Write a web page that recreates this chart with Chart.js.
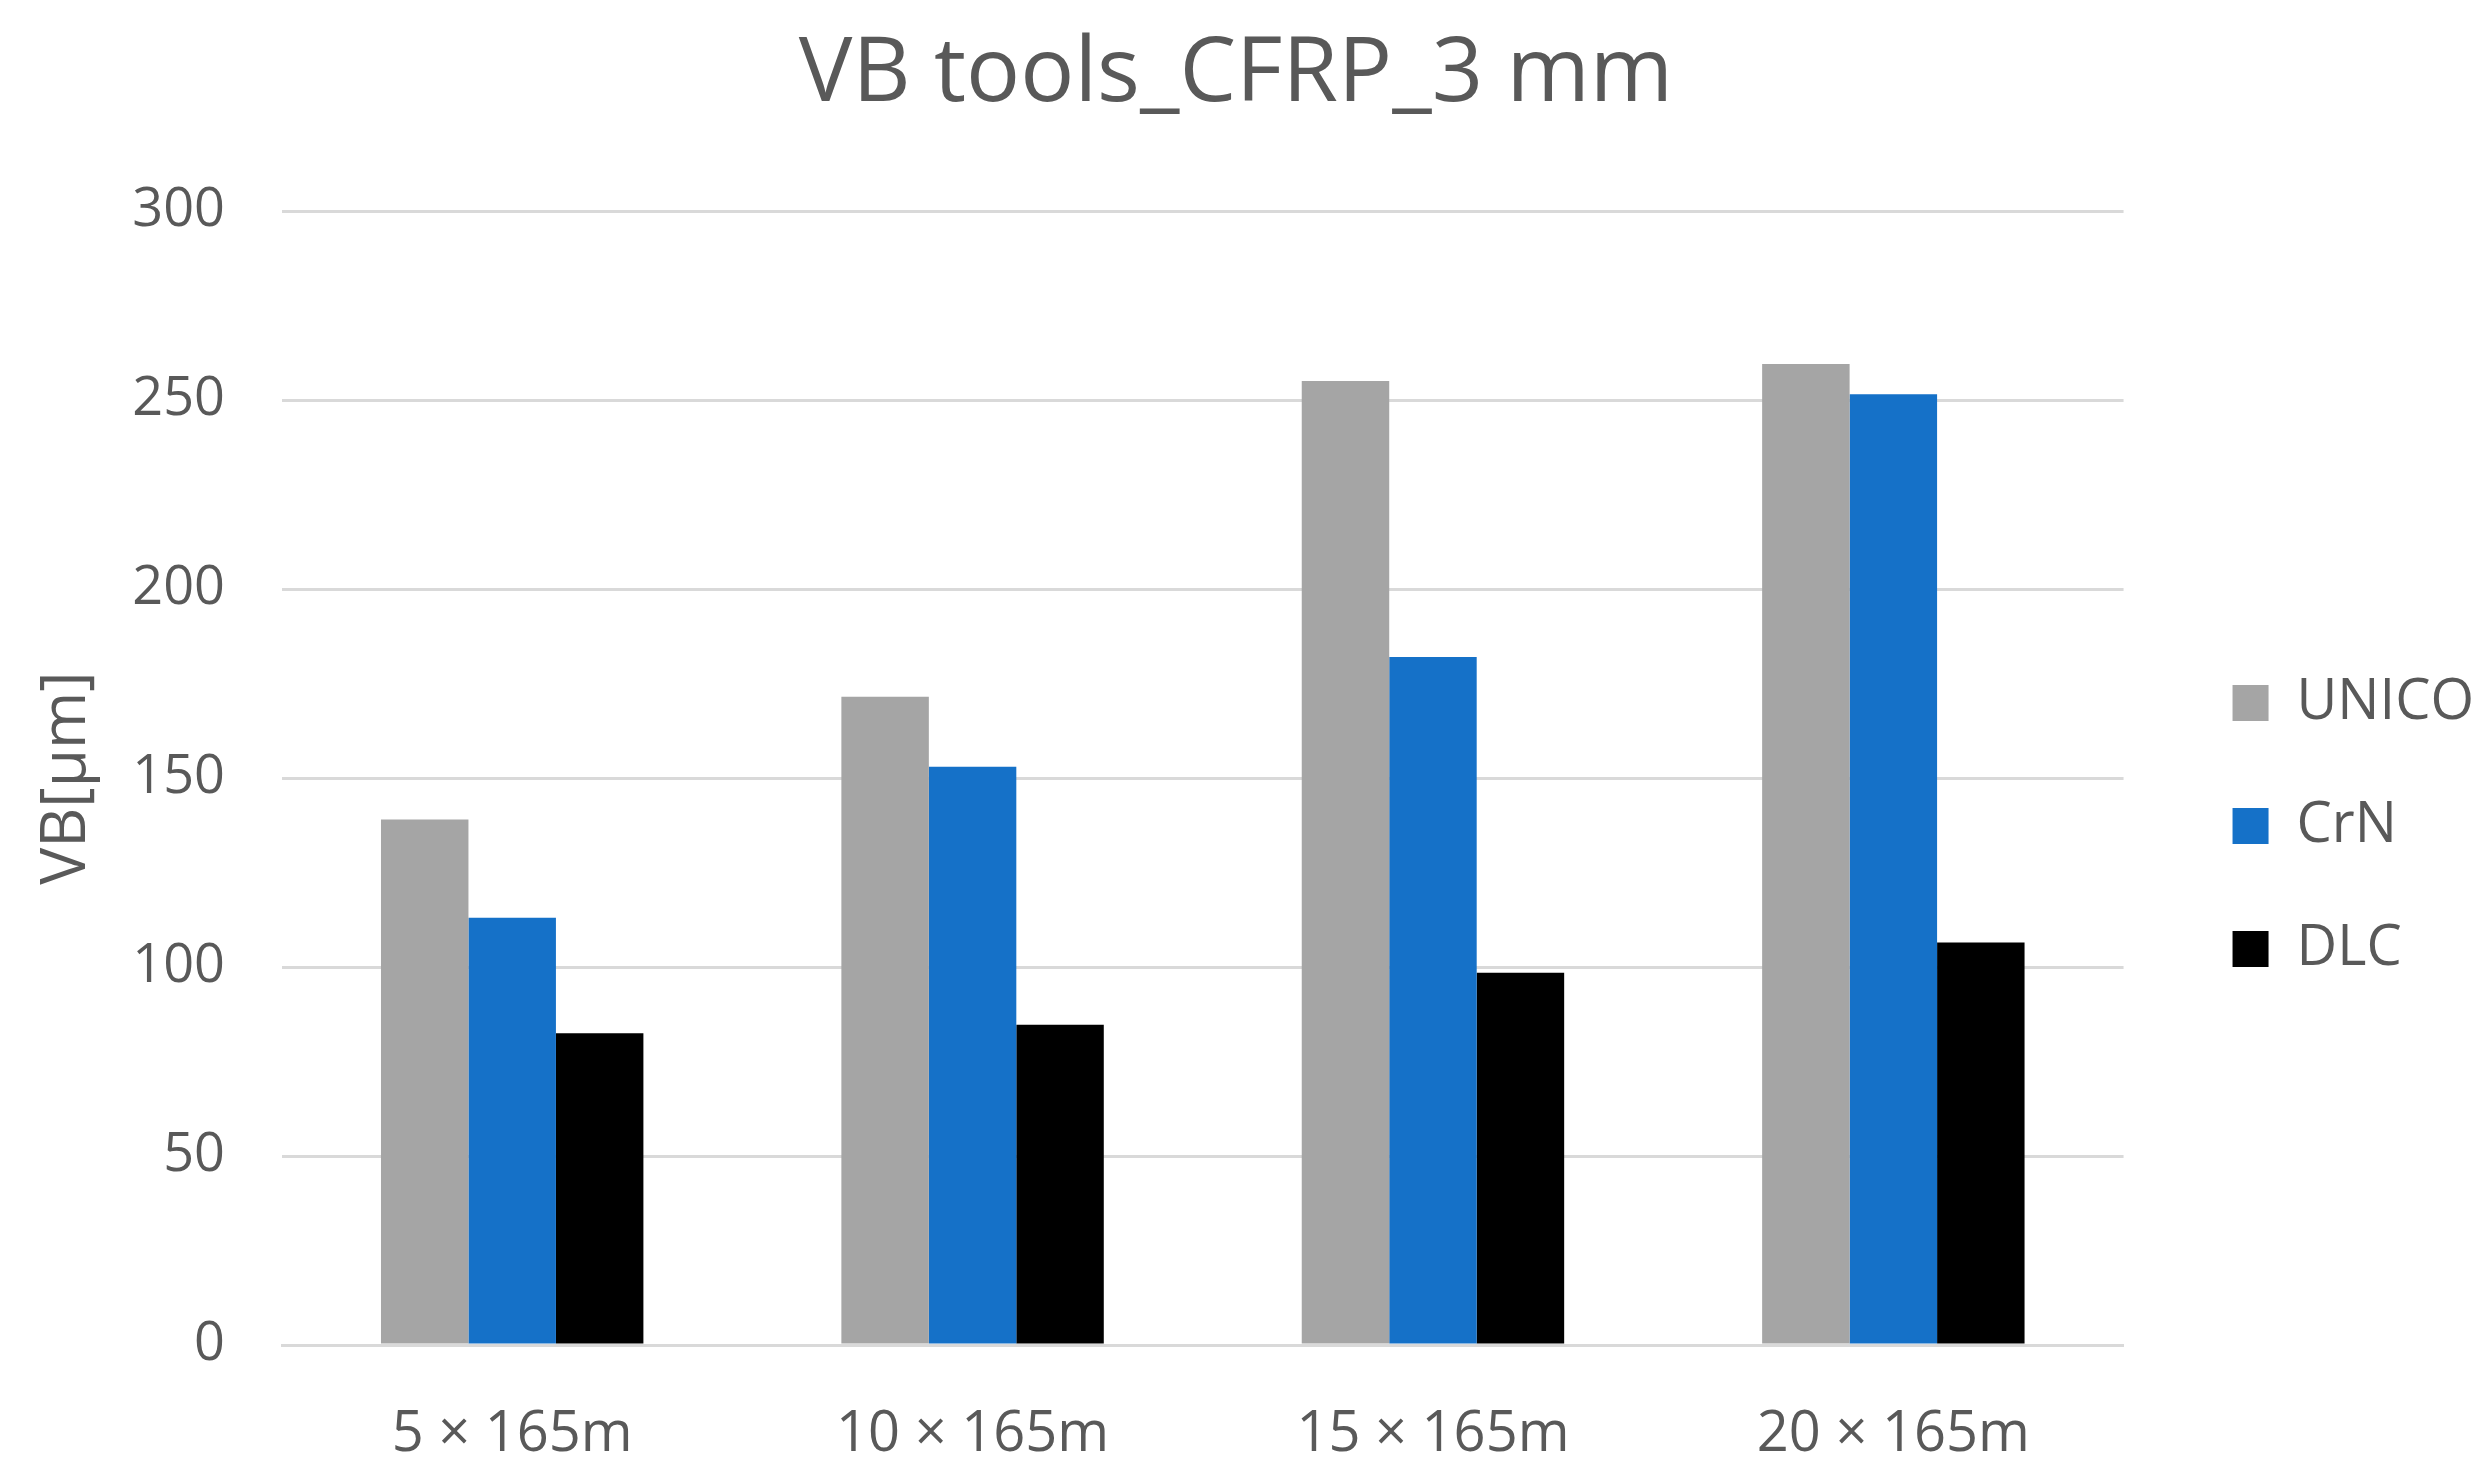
<!DOCTYPE html>
<html>
<head>
<meta charset="utf-8">
<script src="https://cdn.jsdelivr.net/npm/chart.js@4.4.0/dist/chart.umd.min.js"></script>
<style>
  html, body { margin: 0; padding: 0; background: #ffffff; }
  #wrap { width: 2488px; height: 1478px; }
</style>
</head>
<body>
<div id="wrap"><canvas id="vbChart" width="2488" height="1478"></canvas></div>
<script>
const categories = ["5 × 165m", "10 × 165m", "15 × 165m", "20 × 165m"];
const unicoValues = [139, 171.5, 255, 259.5];
const crnValues = [113, 153, 182, 251.5];
const dlcValues = [82.5, 84.7, 98.5, 106.5];
const yTicks = [0, 50, 100, 150, 200, 250, 300];

const textColor = "#595959";
const fontFamily = "'Open Sans', 'Noto Sans', sans-serif";

// nudge the legend block to the right / down after layout (Excel-style spacing)
const legendShift = {
  id: "legendShift",
  afterLayout(chart) {
    const lg = chart.legend;
    if (!lg) return;
    lg.left += 42;
    lg.right += 42;
    lg.top += 48;
    lg.bottom += 48;
  },
};

const ctx = document.getElementById("vbChart").getContext("2d");

new Chart(ctx, {
  type: "bar",
  data: {
    labels: categories,
    datasets: [
      { label: "UNICO", data: unicoValues, backgroundColor: "#A5A5A5" },
      { label: "CrN", data: crnValues, backgroundColor: "#1571C8" },
      { label: "DLC", data: dlcValues, backgroundColor: "#000000" },
    ],
  },
  plugins: [legendShift],
  options: {
    responsive: false,
    animation: false,
    layout: { padding: { left: 30, right: 46, top: 21, bottom: 0 } },
    datasets: {
      bar: { categoryPercentage: 0.57, barPercentage: 1.0 },
    },
    scales: {
      x: {
        grid: { display: false, drawTicks: false },
        border: { display: true, color: "#D9D9D9", width: 3 },
        ticks: { color: textColor, font: { family: fontFamily, size: 56 }, padding: 56 },
        afterFit: (scale) => { scale.height = 133; },
      },
      y: {
        min: 0,
        max: 300,
        afterBuildTicks: (axis) => { axis.ticks = yTicks.map((v) => ({ value: v })); },
        grid: { color: "#D9D9D9", lineWidth: 3, drawTicks: false },
        border: { display: false },
        ticks: { color: textColor, font: { family: fontFamily, size: 54 }, padding: 57 },
        title: {
          display: true,
          text: "VB[μm]",
          color: textColor,
          font: { family: fontFamily, size: 62 },
          padding: 0,
        },
        afterFit: (scale) => { scale.width = 252; },
      },
    },
    plugins: {
      title: {
        display: true,
        text: "VB tools_CFRP_3 mm",
        color: textColor,
        font: { family: fontFamily, size: 90, weight: "normal" },
        padding: { top: 0, bottom: 82 },
      },
      legend: {
        position: "right",
        fullSize: false,
        labels: {
          color: textColor,
          font: { family: fontFamily, size: 56 },
          boxWidth: 36,
          boxHeight: 36,
          padding: 67,
        },
      },
      tooltip: { enabled: false },
    },
  },
});
</script>
</body>
</html>
